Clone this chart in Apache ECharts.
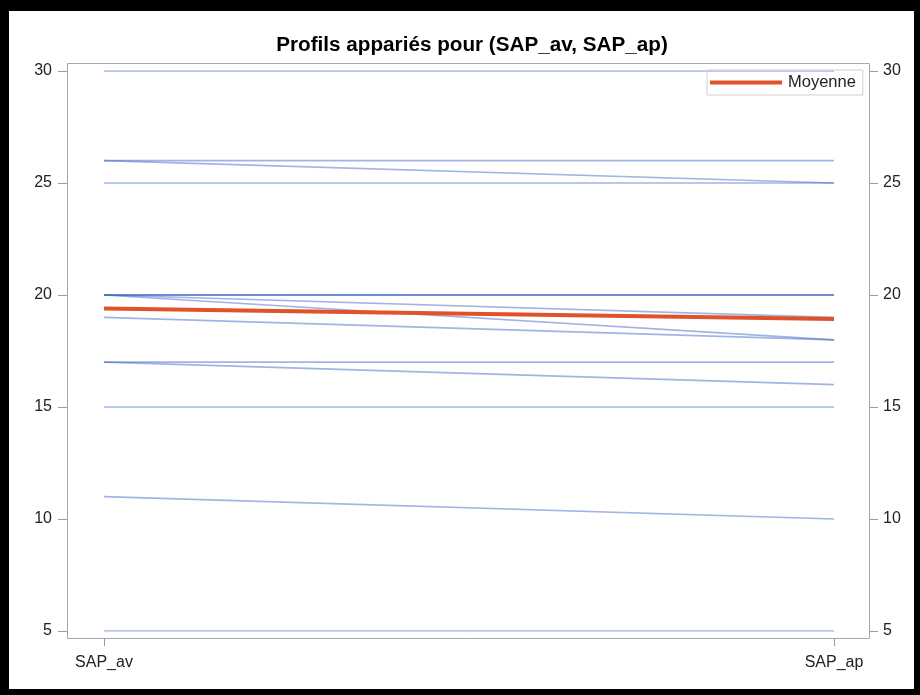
<!DOCTYPE html>
<html>
<head>
<meta charset="utf-8">
<script src="https://cdn.jsdelivr.net/npm/echarts@6/dist/echarts.min.js"></script>
<style>
  html, body { margin: 0; padding: 0; background: #fff; }
  #wrap { position: relative; width: 920px; height: 695px; }
  #chart { position: absolute; left: 0; top: 0; width: 920px; height: 695px; }
  #frame {
    position: absolute; left: 0; top: 0; width: 920px; height: 695px;
    box-sizing: border-box; pointer-events: none;
    border-top: 11px solid #000; border-left: 9px solid #000;
    border-right: 6px solid #000; border-bottom: 6px solid #000;
  }
</style>
</head>
<body>
<div id="wrap">
  <div id="chart"></div>
  <div id="frame"></div>
</div>
<script>
// Paired profiles: one line per subject from SAP_av to SAP_ap
const categories = ['SAP_av', 'SAP_ap'];
const sapAv = [30, 26, 26, 25, 20, 20, 20, 20, 20, 19, 17, 17, 15, 11, 5];
const sapAp = [30, 26, 25, 25, 20, 20, 20, 19, 18, 18, 17, 16, 15, 10, 5];
const moyenne = [19.4, 18.93];
const yMin = 5, yMax = 30, yStep = 5;

const FONT = '"Liberation Sans", Arial, sans-serif';
const profileColor = 'rgba(60, 98, 196, 0.48)';
const meanColor = '#E0522A';

const series = sapAv.map((v, i) => ({
  type: 'line',
  name: 'profil' + (i + 1),
  data: [v, sapAp[i]],
  symbol: 'none',
  silent: true,
  lineStyle: { color: profileColor, width: 1.7 },
  z: 2
}));
series.push({
  type: 'line',
  name: 'Moyenne',
  data: moyenne,
  symbol: 'none',
  itemStyle: { color: meanColor },
  lineStyle: { color: meanColor, width: 4 },
  z: 5
});

const yAxisBase = {
  type: 'value',
  min: yMin,
  max: yMax,
  interval: yStep,
  splitLine: { show: false },
  axisLine: { show: false },
  axisTick: { show: true, length: 9, lineStyle: { color: '#9a9a9a', width: 1 } },
  axisLabel: { margin: 15, fontSize: 16, color: '#222', fontFamily: FONT }
};

const chart = echarts.init(document.getElementById('chart'), null, { renderer: 'canvas' });
chart.setOption({
  animation: false,
  backgroundColor: '#fff',
  title: {
    text: 'Profils appariés pour (SAP_av, SAP_ap)',
    left: 467,
    top: 30,
    textAlign: 'center',
    textStyle: { fontSize: 20.7, fontWeight: 'bold', color: '#000', fontFamily: FONT }
  },
  legend: {
    data: ['Moyenne'],
    left: 707,
    top: 70,
    icon: 'rect',
    itemWidth: 72,
    itemHeight: 4,
    padding: [4, 7, 4, 3],
    borderColor: '#cfcfcf',
    borderWidth: 1,
    textStyle: { fontSize: 16.5, color: '#222', fontFamily: FONT, lineHeight: 17, padding: [0, 0, 0, 1] }
  },
  grid: { left: 104, right: 86, top: 71, bottom: 64, containLabel: false },
  xAxis: {
    type: 'category',
    data: categories,
    boundaryGap: false,
    offset: 7,
    axisLine: { show: false },
    axisTick: { show: true, length: 8, lineStyle: { color: '#9a9a9a', width: 1 } },
    axisLabel: { margin: 17, fontSize: 16, color: '#222', fontFamily: FONT },
    splitLine: { show: false }
  },
  yAxis: [
    Object.assign({}, yAxisBase, { position: 'left', offset: 37 }),
    Object.assign({}, yAxisBase, { position: 'right', offset: 35, axisLabel: Object.assign({}, yAxisBase.axisLabel, { margin: 14 }) })
  ],
  graphic: [{
    type: 'rect',
    shape: { x: 67.5, y: 63.5, width: 802, height: 575 },
    style: { fill: 'none', stroke: '#a8a8a8', lineWidth: 1 },
    silent: true,
    z: 1
  }],
  series: series
});
</script>
</body>
</html>
